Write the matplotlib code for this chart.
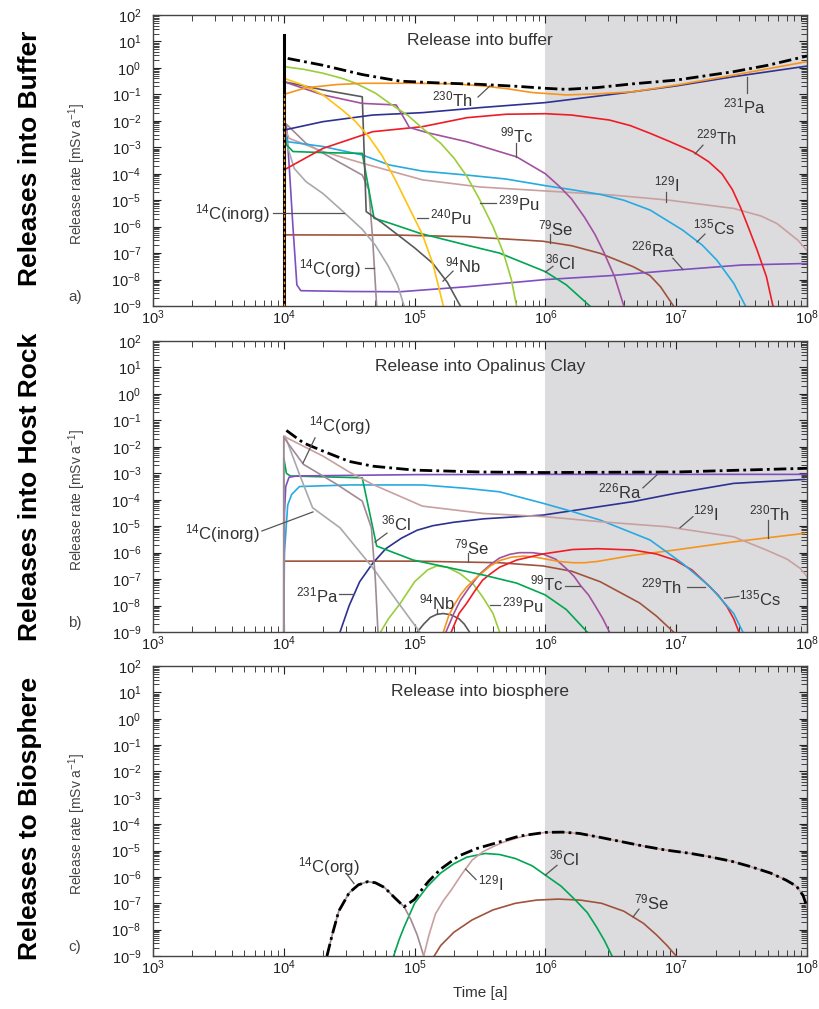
import numpy as np
import matplotlib
matplotlib.use('Agg')
import matplotlib.pyplot as plt
from matplotlib.ticker import LogLocator, NullFormatter

plt.rcParams['font.family'] = ['Liberation Sans', 'DejaVu Sans']
plt.rcParams['mathtext.fontset'] = 'custom'
plt.rcParams['mathtext.rm'] = 'Liberation Sans'
plt.rcParams['mathtext.it'] = 'Liberation Sans:italic'
plt.rcParams['mathtext.bf'] = 'Liberation Sans:bold'

# all values are log10(time [a]) and log10(release rate [mSv/a])

# --- a) release into buffer ---
buf_total_t = [4.03, 4.3, 4.6, 4.89, 5.2, 5.5, 5.8, 6.0, 6.16, 6.4, 6.67, 7.0, 7.44, 7.7, 8.0]
buf_total_v = [0.36, 0.1, -0.25, -0.5, -0.57, -0.62, -0.7, -0.77, -0.81, -0.74, -0.6, -0.46, -0.14, 0.1, 0.45]
buf_pulse_peak = 1.24

buf_th230_t = [4.0, 4.17, 4.4, 4.6, 5.0, 5.3, 5.52, 5.7, 5.9, 6.16, 6.4, 6.67, 7.0, 7.44, 8.0]
buf_th230_v = [-1.0, -0.75, -0.63, -0.58, -0.58, -0.6, -0.68, -0.78, -0.93, -1.02, -0.98, -0.9, -0.65, -0.27, 0.24]
buf_pa231_t = [4.0, 4.3, 4.68, 5.06, 5.5, 6.0, 6.67, 7.0, 7.44, 8.0]
buf_pa231_v = [-2.35, -2.03, -1.78, -1.69, -1.5, -1.31, -0.9, -0.68, -0.33, 0.07]
buf_th229_t = [4.0, 4.3, 4.68, 5.06, 5.4, 5.7, 6.0, 6.2, 6.49, 6.65, 6.8, 6.95, 7.13, 7.25, 7.35,
               7.43, 7.49, 7.55, 7.62, 7.69, 7.74]
buf_th229_v = [-3.86, -3.04, -2.41, -2.22, -1.88, -1.75, -1.73, -1.78, -1.97, -2.18, -2.47, -2.78, -3.17, -3.55, -4.0,
               -4.6, -5.25, -6.0, -6.9, -7.89, -9.0]
buf_pu239_t = [4.0, 4.15, 4.3, 4.45, 4.55, 4.7, 4.81, 4.95, 5.06, 5.2, 5.3, 5.4, 5.5, 5.6, 5.68, 5.74, 5.78]
buf_pu239_v = [0.05, -0.05, -0.2, -0.4, -0.58, -0.95, -1.34, -1.8, -2.28, -2.85, -3.4, -4.1, -5.0, -6.0, -7.0, -8.0, -9.0]
buf_pu240_t = [4.0, 4.15, 4.3, 4.45, 4.55, 4.65, 4.75, 4.85, 4.95, 5.06, 5.14, 5.22]
buf_pu240_v = [-0.39, -0.65, -1.02, -1.6, -2.03, -2.6, -3.3, -4.2, -5.2, -6.3, -7.4, -9.0]
buf_tc99_t = [4.0, 4.3, 4.6, 4.86, 4.92, 4.96, 5.1, 5.4, 5.78, 6.0, 6.11, 6.2, 6.3, 6.38, 6.45, 6.53, 6.6]
buf_tc99_v = [-0.52, -1.02, -1.34, -1.4, -1.9, -2.25, -2.45, -2.79, -3.36, -4.0, -4.49, -4.95, -5.65, -6.3, -7.0, -7.9, -9.0]
buf_nb94_t = [4.0, 4.3, 4.6, 4.63, 4.75, 4.89, 5.0, 5.14, 5.25, 5.35]
buf_nb94_v = [-0.52, -0.83, -1.09, -5.43, -5.85, -6.38, -6.8, -7.39, -8.1, -9.0]
buf_cs135_t = [4.0, 4.03, 4.3, 4.6, 4.81, 5.06, 5.4, 5.7, 6.0, 6.2, 6.42, 6.6, 6.8, 7.05, 7.2, 7.31, 7.44, 7.53]
buf_cs135_v = [-2.35, -2.79, -2.97, -3.29, -3.67, -3.9, -4.05, -4.2, -4.45, -4.6, -4.78, -5.0, -5.37, -6.13, -6.7, -7.26, -8.14, -9.0]
buf_i129_t = [4.0, 4.04, 4.3, 4.6, 5.06, 5.5, 6.0, 6.5, 6.93, 7.44, 7.65, 7.77, 7.93, 8.0]
buf_i129_v = [-2.16, -2.66, -3.16, -3.6, -4.23, -4.5, -4.65, -4.8, -4.99, -5.31, -5.6, -5.88, -6.51, -6.9]
buf_cl36_t = [4.0, 4.02, 4.07, 4.3, 4.6, 4.69, 4.8, 5.04, 5.4, 5.65, 5.8, 6.0, 6.16, 6.34]
buf_cl36_v = [-2.4, -2.9, -3.16, -3.2, -3.23, -5.68, -5.85, -6.25, -6.7, -7.0, -7.3, -7.7, -8.2, -9.0]
buf_c14i_t = [4.0, 4.03, 4.08, 4.17, 4.3, 4.46, 4.6, 4.7, 4.8, 4.87, 4.92]
buf_c14i_v = [-2.16, -3.0, -3.8, -4.3, -4.75, -5.46, -6.1, -6.7, -7.5, -8.2, -9.0]
buf_c14o_t = [4.0, 4.17, 4.4, 4.6, 4.65, 4.68, 4.71]
buf_c14o_v = [-2.03, -2.85, -3.5, -4.05, -4.6, -6.5, -9.0]
buf_ra226_t = [4.0, 4.02, 4.04, 4.07, 4.1, 4.13, 4.5, 4.89, 5.4, 6.0, 6.5, 7.0, 7.5, 8.0]
buf_ra226_v = [-2.3, -2.16, -3.6, -6.0, -8.2, -8.42, -8.45, -8.46, -8.27, -8.0, -7.85, -7.64, -7.45, -7.39]
buf_se79_t = [4.0, 4.89, 5.4, 5.98, 6.2, 6.42, 6.67, 6.8, 6.88, 6.98]
buf_se79_v = [-6.31, -6.32, -6.38, -6.55, -6.72, -7.01, -7.51, -7.85, -8.27, -9.0]

# --- b) release into Opalinus Clay ---
hr_total_t = [4.02, 4.15, 4.3, 4.5, 4.68, 5.0, 5.5, 6.0, 7.0, 8.0]
hr_total_v = [-1.38, -1.85, -2.16, -2.55, -2.73, -2.88, -2.95, -2.97, -2.95, -2.81]

hr_i129_t = [4.01, 4.02, 4.3, 4.5, 4.68, 5.06, 5.53, 6.0, 6.42, 6.93, 7.44, 7.69, 7.85, 7.95, 8.0]
hr_i129_v = [-1.6, -1.65, -2.35, -2.95, -3.42, -4.24, -4.52, -4.64, -4.83, -5.02, -5.4, -5.9, -6.25, -6.6, -6.9]
hr_c14o_t = [4.0, 4.0, 4.02, 4.15, 4.4, 4.6, 4.67, 4.7, 4.72]
hr_c14o_v = [-9.0, -1.6, -1.78, -2.66, -3.4, -4.05, -5.06, -7.0, -9.0]
hr_c14i_t = [4.0, 4.0, 4.02, 4.12, 4.22, 4.43, 4.68, 4.94, 5.04]
hr_c14i_v = [-9.0, -1.6, -1.72, -3.04, -4.3, -5.06, -6.57, -8.33, -9.0]
hr_cl36_t = [4.0, 4.0, 4.02, 4.05, 4.6, 4.71, 4.99, 5.2, 5.53, 5.78, 6.0, 6.16, 6.32]
hr_cl36_v = [-9.0, -2.41, -3.0, -3.1, -3.17, -5.75, -6.28, -6.5, -6.85, -7.15, -7.6, -8.15, -9.0]
hr_ra226_t = [4.0, 4.005, 4.015, 4.04, 4.1, 5.0, 6.0, 7.0, 8.0]
hr_ra226_v = [-9.0, -4.5, -3.5, -3.15, -3.1, -3.05, -3.04, -3.04, -3.04]
hr_cs135_t = [4.0, 4.005, 4.03, 4.06, 4.12, 4.5, 5.06, 5.4, 5.65, 5.98, 6.21, 6.42, 6.8, 7.05, 7.26, 7.44, 7.51]
hr_cs135_v = [-9.0, -6.0, -4.2, -3.8, -3.5, -3.44, -3.44, -3.57, -3.7, -4.13, -4.45, -4.77, -5.52, -6.41, -7.29, -8.3, -9.0]
hr_se79_t = [4.0, 4.0, 5.0, 5.65, 5.98, 6.2, 6.42, 6.72, 6.85, 6.98]
hr_se79_v = [-9.0, -6.32, -6.32, -6.38, -6.5, -6.7, -7.1, -7.9, -8.4, -9.0]
hr_pa231_t = [4.43, 4.5, 4.58, 4.68, 4.78, 4.9, 5.02, 5.14, 5.3, 5.53, 5.98, 6.67, 6.99, 7.44, 7.98]
hr_pa231_v = [-9.0, -8.0, -7.1, -6.4, -5.85, -5.45, -5.15, -4.98, -4.85, -4.72, -4.58, -4.07, -3.76, -3.38, -3.23]
hr_pu239_t = [4.74, 4.8, 4.89, 5.0, 5.1, 5.17, 5.25, 5.35, 5.45, 5.52, 5.6, 5.65]
hr_pu239_v = [-9.0, -8.5, -7.92, -7.1, -6.65, -6.5, -6.55, -6.8, -7.2, -7.67, -8.3, -9.0]
hr_nb94_t = [5.02, 5.07, 5.12, 5.17, 5.22, 5.28, 5.34, 5.38, 5.42]
hr_nb94_v = [-9.0, -8.7, -8.45, -8.33, -8.3, -8.35, -8.5, -8.7, -9.0]
hr_tc99_t = [5.24, 5.3, 5.35, 5.42, 5.5, 5.58, 5.65, 5.73, 5.8, 5.9, 5.98, 6.08, 6.16, 6.22, 6.27, 6.33, 6.38, 6.44, 6.49]
hr_tc99_v = [-9.0, -8.3, -7.8, -7.3, -6.8, -6.45, -6.2, -6.06, -6.0, -6.0, -6.05, -6.25, -6.6, -6.9, -7.25, -7.6, -8.0, -8.5, -9.0]
hr_th230_t = [5.22, 5.26, 5.3, 5.35, 5.4, 5.46, 5.52, 5.58, 5.65, 5.74, 5.83, 5.9, 5.98, 6.1, 6.21, 6.3,
              6.4, 6.67, 6.99, 7.44, 7.98]
hr_th230_v = [-9.0, -8.4, -8.0, -7.6, -7.29, -7.0, -6.75, -6.5, -6.3, -6.17, -6.13, -6.15, -6.22, -6.33, -6.38, -6.38,
              -6.33, -6.1, -5.9, -5.59, -5.27]
hr_th229_t = [5.28, 5.34, 5.4, 5.46, 5.52, 5.58, 5.65, 5.78, 5.98, 6.21, 6.4, 6.67, 6.85, 6.99, 7.12, 7.23,
              7.32, 7.39, 7.44, 7.48]
hr_th229_v = [-9.0, -8.3, -7.9, -7.45, -7.04, -6.8, -6.55, -6.28, -6.05, -5.88, -5.85, -5.9, -6.05, -6.28, -6.65, -7.16,
              -7.6, -8.05, -8.5, -9.0]

# --- c) release into biosphere ---
bio_total_t = [4.33, 4.37, 4.42, 4.5, 4.57, 4.64, 4.7, 4.77, 4.85, 4.92, 5.0, 5.06, 5.11, 5.2, 5.34, 5.47, 5.61,
               5.8, 6.0, 6.13, 6.26, 6.42, 6.59, 6.75, 6.92, 7.1, 7.25, 7.42, 7.57, 7.72, 7.84, 7.92, 7.97, 8.0]
bio_total_v = [-9.0, -8.2, -7.3, -6.6, -6.3, -6.18, -6.22, -6.4, -6.8, -7.13, -6.85, -6.45, -6.15, -5.7, -5.2, -4.93,
               -4.73, -4.45, -4.31, -4.3, -4.35, -4.5, -4.67, -4.83, -4.98, -5.1, -5.23, -5.4, -5.61, -5.85, -6.12,
               -6.35, -6.7, -7.13]
bio_c14o_t = [4.33, 4.37, 4.42, 4.5, 4.57, 4.64, 4.7, 4.77, 4.85, 4.92, 4.97, 5.02, 5.07]
bio_c14o_v = [-9.0, -8.2, -7.3, -6.6, -6.3, -6.18, -6.22, -6.4, -6.8, -7.13, -7.6, -8.2, -9.0]
bio_i129_t = [5.07, 5.11, 5.16, 5.22, 5.28, 5.36, 5.44, 5.52, 5.6, 5.68, 5.77, 5.88, 6.0, 6.13, 6.26, 6.42, 6.59,
              6.75, 6.92, 7.1, 7.25, 7.42, 7.57, 7.72, 7.84, 7.92, 7.97, 8.0]
bio_i129_v = [-9.0, -8.2, -7.4, -6.9, -6.5, -5.9, -5.36, -5.05, -4.85, -4.68, -4.54, -4.4, -4.31, -4.3, -4.35, -4.5,
              -4.67, -4.83, -4.98, -5.1, -5.23, -5.4, -5.61, -5.85, -6.12, -6.35, -6.7, -7.13]
bio_cl36_t = [4.84, 4.88, 4.92, 5.0, 5.1, 5.2, 5.3, 5.4, 5.54, 5.65, 5.77, 5.9, 6.0, 6.12, 6.23, 6.32, 6.39, 6.45, 6.51]
bio_cl36_v = [-9.0, -8.4, -7.9, -7.0, -6.35, -5.85, -5.5, -5.25, -5.11, -5.15, -5.3, -5.58, -5.93, -6.35, -6.88,
              -7.35, -7.89, -8.4, -9.0]
bio_se79_t = [5.15, 5.2, 5.3, 5.44, 5.6, 5.77, 5.93, 6.1, 6.27, 6.43, 6.6, 6.75, 6.85, 6.93, 7.0]
bio_se79_v = [-9.0, -8.6, -8.1, -7.63, -7.25, -7.0, -6.88, -6.84, -6.88, -7.0, -7.3, -7.76, -8.2, -8.6, -9.0]

# colours
C = {
    'pu239': '#9acd3a', 'pu240': '#ffc20e', 'th230': '#f7941d', 'tc99': '#a2519e',
    'nb94': '#5a5a5a', 'pa231': '#2e3192', 'th229': '#ee1c25', 'cs135': '#27aae1',
    'i129': '#c9a0a0', 'cl36': '#00a651', 'c14i': '#a7a9ac', 'c14o': '#a08a96',
    'ra226': '#7f4fbf', 'se79': '#a0533c',
}
SHADE = '#dcdcdf'
TXT = '#333333'

# label text, position, leader line (all in log10 units)
buf_labels = [
    ('$^{230}$Th', 5.286, -1.18, (5.485, -1.10), (5.576, -0.68)),
    ('$^{231}$Pa', 7.518, -1.44, (7.541, -0.95), (7.541, -0.34)),
    ('$^{99}$Tc', 5.783, -2.54, (5.775, -2.84), (5.775, -3.37)),
    ('$^{229}$Th', 7.304, -2.61, (7.205, -2.92), (7.144, -3.25)),
    ('$^{129}$I', 6.93, -4.39, (6.922, -4.69), (6.922, -5.05)),
    ('$^{14}$C(inorg)', 3.604, -5.49, (3.917, -5.49), (4.46, -5.49)),
    ('$^{239}$Pu', 5.798, -5.11, (5.5, -5.11), (5.625, -5.11)),
    ('$^{135}$Cs', 7.289, -6.02, (7.22, -6.28), (7.159, -6.58)),
    ('$^{240}$Pu', 5.278, -5.67, (5.018, -5.67), (5.102, -5.67)),
    ('$^{79}$Se', 6.081, -6.05, (6.035, -6.28), (6.035, -6.6)),
    ('$^{226}$Ra', 6.823, -6.88, (6.975, -7.19), (7.052, -7.62)),
    ('$^{36}$Cl', 6.112, -7.34, (6.058, -7.5), (6.0, -7.72)),
    ('$^{14}$C(org)', 4.353, -7.57, (4.621, -7.57), (4.69, -7.57)),
    ('$^{94}$Nb', 5.37, -7.45, (5.294, -7.68), (5.217, -8.06)),
]
hr_labels = [
    ('$^{14}$C(org)', 4.43, -1.21, (4.239, -1.66), (4.147, -2.61)),
    ('$^{14}$C(inorg)', 3.528, -5.26, (3.833, -5.18), (4.223, -4.46)),
    ('$^{36}$Cl', 4.858, -4.88, (4.789, -5.26), (4.697, -5.6)),
    ('$^{79}$Se', 5.439, -5.79, (5.408, -6.01), (5.408, -6.36)),
    ('$^{231}$Pa', 4.254, -7.6, (4.42, -7.57), (4.535, -7.57)),
    ('$^{94}$Nb', 5.171, -7.9, (5.171, -8.12), (5.171, -8.3)),
    ('$^{239}$Pu', 5.829, -7.98, (5.576, -7.98), (5.653, -7.98)),
    ('$^{99}$Tc', 6.012, -7.18, (6.15, -7.26), (6.264, -7.26)),
    ('$^{226}$Ra', 6.57, -3.7, (6.746, -3.55), (6.853, -3.06)),
    ('$^{129}$I', 7.228, -4.5, (7.128, -4.64), (7.029, -5.06)),
    ('$^{230}$Th', 7.709, -4.5, (7.702, -4.77), (7.702, -5.45)),
    ('$^{229}$Th', 6.884, -7.29, (7.083, -7.29), (7.22, -7.29)),
    ('$^{135}$Cs', 7.641, -7.74, (7.48, -7.65), (7.37, -7.72)),
]
bio_labels = [
    ('$^{14}$C(org)', 4.346, -5.6, (4.483, -5.9), (4.537, -6.25)),
    ('$^{129}$I', 5.584, -6.24, (5.47, -6.1), (5.39, -5.7)),
    ('$^{36}$Cl', 6.142, -5.3, (6.089, -5.56), (6.0, -5.93)),
    ('$^{79}$Se', 6.815, -6.96, (6.716, -7.22), (6.67, -7.52)),
]


def lg(a):
    return 10.0 ** np.asarray(a, dtype=float)


def setup_axes(ax, title, letter):
    ax.set_xscale('log')
    ax.set_yscale('log')
    ax.set_xlim(1e3, 1e8)
    ax.set_ylim(1e-9, 1e2)
    ax.axvspan(1e6, 1e8, color=SHADE, lw=0, zorder=0)
    ax.xaxis.set_major_locator(LogLocator(base=10, numticks=12))
    ax.xaxis.set_minor_locator(LogLocator(base=10, subs=np.arange(2, 10), numticks=12))
    ax.yaxis.set_major_locator(LogLocator(base=10, numticks=15))
    ax.yaxis.set_minor_locator(LogLocator(base=10, subs=np.arange(2, 10), numticks=15))
    ax.xaxis.set_minor_formatter(NullFormatter())
    ax.yaxis.set_minor_formatter(NullFormatter())
    ax.tick_params(which='both', direction='in', top=True, right=True, colors='#222222')
    ax.tick_params(which='major', length=6, width=0.8, labelsize=10.5)
    ax.tick_params(which='minor', length=4, width=0.6)
    ax.tick_params(axis='y', pad=8.5)
    ax.tick_params(axis='x', pad=2)
    for sp in ax.spines.values():
        sp.set_color('#444444')
        sp.set_linewidth(1.0)
    ax.set_ylabel('Release rate [mSv a$^{-1}$]', fontsize=10, color='#444444')
    ax.yaxis.set_label_coords(-0.10, 0.455)
    ax.text(1e3 * 10 ** 2.5, 10 ** 1.02, title, ha='center', va='center', fontsize=12.5, color=TXT)
    ax.text(-0.119, 0.03, letter, transform=ax.transAxes, ha='center', va='center',
            fontsize=11, color='#444444')


def draw_curves(ax, curves, total_t, total_v):
    for t, v, key in curves:
        ax.plot(lg(t), lg(v), color=C[key], lw=1.2, zorder=2, solid_joinstyle='round')
    ax.plot(lg(total_t), lg(total_v), color='black', lw=2.0, dashes=(4.5, 1.5, 1, 1.5), zorder=5)


def draw_labels(ax, labels):
    for text, lx, ly, p0, p1 in labels:
        ax.text(10 ** lx, 10 ** ly, text, ha='center', va='center', fontsize=12, color=TXT, zorder=6)
        ax.plot([10 ** p0[0], 10 ** p1[0]], [10 ** p0[1], 10 ** p1[1]], color='#555555', lw=0.9, zorder=6)


fig = plt.figure(figsize=(8.19, 10.09), dpi=100)
ax_a = fig.add_axes([0.1868, 0.6967, 0.7985, 0.2884])
ax_b = fig.add_axes([0.1868, 0.3736, 0.7985, 0.2884])
ax_c = fig.add_axes([0.1868, 0.0525, 0.7985, 0.2874])

setup_axes(ax_a, 'Release into buffer', 'a)')
setup_axes(ax_b, 'Release into Opalinus Clay', 'b)')
setup_axes(ax_c, 'Release into biosphere', 'c)')

buf_curves = [
    (buf_se79_t, buf_se79_v, 'se79'), (buf_ra226_t, buf_ra226_v, 'ra226'),
    (buf_c14o_t, buf_c14o_v, 'c14o'), (buf_c14i_t, buf_c14i_v, 'c14i'),
    (buf_i129_t, buf_i129_v, 'i129'), (buf_cs135_t, buf_cs135_v, 'cs135'),
    (buf_cl36_t, buf_cl36_v, 'cl36'), (buf_nb94_t, buf_nb94_v, 'nb94'),
    (buf_th229_t, buf_th229_v, 'th229'), (buf_pa231_t, buf_pa231_v, 'pa231'),
    (buf_tc99_t, buf_tc99_v, 'tc99'), (buf_pu240_t, buf_pu240_v, 'pu240'),
    (buf_pu239_t, buf_pu239_v, 'pu239'), (buf_th230_t, buf_th230_v, 'th230'),
]
draw_curves(ax_a, buf_curves, buf_total_t, buf_total_v)
# initial pulse at 10^4 a
ax_a.plot([1e4, 1e4], [1e-9, 10 ** buf_pulse_peak], color='black', lw=2.2, zorder=4)
ax_a.plot([1e4, 1e4], [1e-9, 10 ** buf_th230_v[0]], color=C['th230'], lw=1.0, dashes=(2, 2), zorder=4)
draw_labels(ax_a, buf_labels)

hr_curves = [
    (hr_se79_t, hr_se79_v, 'se79'), (hr_nb94_t, hr_nb94_v, 'nb94'),
    (hr_pu239_t, hr_pu239_v, 'pu239'), (hr_tc99_t, hr_tc99_v, 'tc99'),
    (hr_th230_t, hr_th230_v, 'th230'), (hr_th229_t, hr_th229_v, 'th229'),
    (hr_pa231_t, hr_pa231_v, 'pa231'), (hr_cs135_t, hr_cs135_v, 'cs135'),
    (hr_cl36_t, hr_cl36_v, 'cl36'), (hr_ra226_t, hr_ra226_v, 'ra226'),
    (hr_c14i_t, hr_c14i_v, 'c14i'), (hr_c14o_t, hr_c14o_v, 'c14o'),
    (hr_i129_t, hr_i129_v, 'i129'),
]
draw_curves(ax_b, hr_curves, hr_total_t, hr_total_v)
draw_labels(ax_b, hr_labels)

bio_curves = [
    (bio_se79_t, bio_se79_v, 'se79'), (bio_cl36_t, bio_cl36_v, 'cl36'),
    (bio_c14o_t, bio_c14o_v, 'c14o'), (bio_i129_t, bio_i129_v, 'i129'),
]
draw_curves(ax_c, bio_curves, bio_total_t, bio_total_v)
draw_labels(ax_c, bio_labels)
ax_c.set_xlabel('Time [a]', fontsize=11, color=TXT, labelpad=6)

row_font = dict(rotation=90, ha='center', va='center', fontsize=19, fontweight='bold',
                family=['Liberation Sans Narrow', 'Liberation Sans', 'DejaVu Sans'])
fig.text(0.037, 0.843, 'Releases into Buffer', **row_font)
fig.text(0.037, 0.517, 'Releases into Host Rock', **row_font)
fig.text(0.037, 0.189, 'Releases to Biosphere', **row_font)

fig.savefig('out.png', dpi=100)
